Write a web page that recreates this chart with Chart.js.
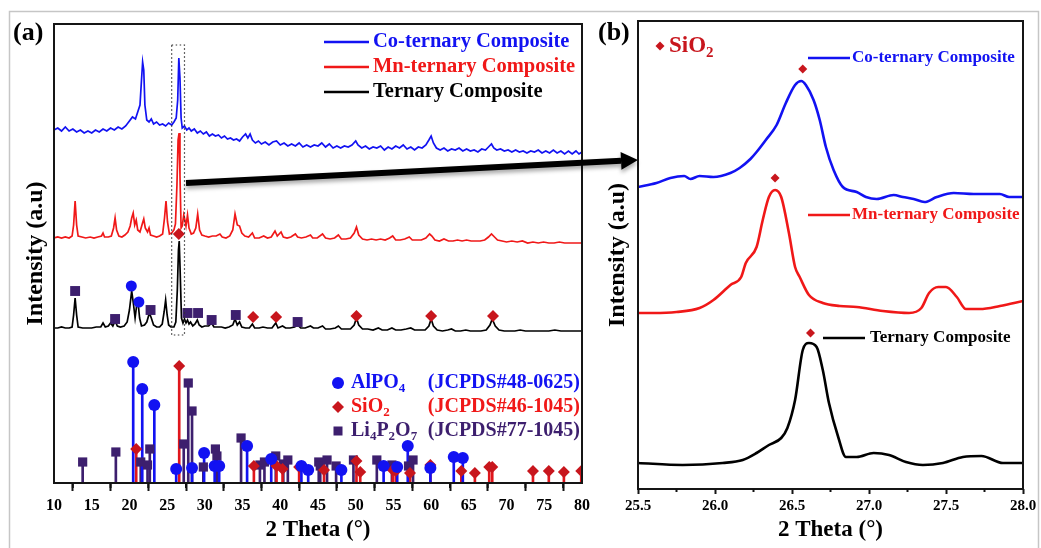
<!DOCTYPE html>
<html>
<head>
<meta charset="utf-8">
<script src="https://cdn.jsdelivr.net/npm/chart.js@4.4.1/dist/chart.umd.min.js"></script>
<style>
  html, body { margin: 0; padding: 0; background: #fff; }
  #wrap { position: relative; width: 1041px; height: 548px; overflow: hidden; }
  #ca { position: absolute; left: 0; top: 0; }
  #cb { position: absolute; left: 590px; top: 0; }
</style>
</head>
<body>
<div id="wrap">
  <canvas id="ca" width="1041" height="548"></canvas>
  <canvas id="cb" width="451" height="548"></canvas>
</div>
<script>
// ---- panel (a): measured patterns, [2theta, intensity a.u.] ----
const coTrace = [[10,353],[10.5,355],[11,352],[11.5,356],[12,352],[12.5,354],[13,351],[13.5,353],[14,350],[14.5,352],[15,350],[15.5,353],[16,351],[16.5,354],[17,352],[17.5,355],[18,353],[18.5,356],[19,354],[19.5,357],[20,362],[20.4,366],[20.8,364],[21.1,371],[21.4,378],[21.6,403],[21.75,421],[21.9,413],[22.05,378],[22.3,363],[22.6,361],[22.9,364],[23.2,359],[23.6,361],[24,358],[24.4,359],[24.8,357],[25.2,360],[25.6,358],[25.9,361],[26.2,365],[26.4,383],[26.55,425],[26.7,405],[26.85,365],[27,355],[27.3,357],[27.6,353],[27.9,355],[28.2,352],[28.6,354],[29,350],[29.4,352],[29.8,349],[30.2,351],[30.6,347],[31,349],[31.4,347],[31.8,348],[32.2,345],[32.6,347],[33,344],[33.4,345],[33.8,343],[34.2,344],[34.6,342],[35,346],[35.4,349],[35.7,345],[36,349],[36.3,343],[36.7,340],[37.1,342],[37.5,339],[38,341],[38.5,338],[39,341],[39.5,342],[40,338],[40.5,340],[41,337],[41.5,339],[42,337],[42.5,340],[43,336],[43.5,338],[44,336],[44.5,338],[45,337],[45.5,340],[46,336],[46.5,339],[47,335],[47.5,337],[48,335],[48.5,337],[49,336],[49.5,338],[50,342],[50.3,338],[50.8,335],[51.3,337],[51.8,334],[52.3,336],[52.8,335],[53.3,337],[53.8,333],[54.3,336],[54.8,334],[55.3,337],[55.8,335],[56.3,338],[56.8,334],[57.3,336],[57.8,333],[58.3,336],[58.8,335],[59.3,338],[59.7,343],[60,347],[60.3,340],[60.7,335],[61.2,333],[61.7,335],[62.2,332],[62.7,334],[63.2,333],[63.7,335],[64.2,332],[64.7,334],[65.2,332],[65.7,333],[66.2,331],[66.7,334],[67.2,333],[67.6,336],[68,339],[68.3,335],[68.7,333],[69.2,334],[69.7,332],[70.2,333],[70.7,331],[71.2,333],[71.7,331],[72.2,332],[72.7,330],[73.2,332],[73.7,331],[74.2,333],[74.7,330],[75.2,332],[75.7,330],[76.2,333],[76.7,330],[77.2,332],[77.7,329],[78.2,332],[78.7,329],[79.2,332],[79.6,329],[80,331]];

const mnTrace = [[10,245],[10.5,246],[11,245],[11.5,246],[12,245],[12.4,247],[12.6,258],[12.8,282],[13,258],[13.2,247],[13.7,246],[14.2,245],[14.8,246],[15.3,245],[15.8,246],[16.3,247],[16.5,250],[16.7,246],[17.2,246],[17.6,247],[17.9,255],[18.1,265],[18.3,253],[18.6,247],[19,246],[19.4,248],[19.8,251],[20.1,257],[20.3,265],[20.5,270],[20.7,258],[20.9,263],[21.1,253],[21.4,251],[21.7,259],[21.9,264],[22.1,255],[22.4,251],[22.6,255],[22.8,248],[23.2,247],[23.6,246],[24,247],[24.4,249],[24.65,265],[24.85,282],[25.05,261],[25.3,249],[25.6,250],[25.9,253],[26.1,259],[26.3,298],[26.45,343],[26.58,350],[26.7,308],[26.85,255],[27,257],[27.2,268],[27.35,263],[27.5,257],[27.7,268],[27.9,255],[28.2,249],[28.5,250],[28.8,255],[29.05,269],[29.3,253],[29.6,248],[30,247],[30.5,246],[31,247],[31.5,247],[32,249],[32.3,246],[32.8,245],[33.3,247],[33.7,253],[34,269],[34.3,258],[34.6,257],[34.9,250],[35.3,247],[35.8,246],[36.3,250],[36.6,245],[37.2,245],[37.8,247],[38.3,245],[38.8,246],[39.3,252],[39.6,247],[40.1,251],[40.4,246],[40.9,245],[41.4,246],[42,249],[42.3,246],[42.8,245],[43.4,246],[44,248],[44.3,245],[44.9,245],[45.6,249],[46,245],[46.6,244],[47.2,245],[47.7,248],[48.1,244],[48.7,244],[49.3,245],[49.8,250],[50.1,256],[50.4,248],[50.9,244],[51.5,243],[52.1,244],[52.7,243],[53.3,244],[53.9,243],[54.5,245],[54.9,247],[55.3,243],[55.9,243],[56.5,244],[57.1,246],[57.5,243],[58.1,243],[58.7,243],[59.3,245],[59.8,249],[60.1,247],[60.5,243],[61.1,242],[61.7,244],[62.3,242],[62.9,242],[63.5,243],[64.1,242],[64.7,243],[65.3,242],[65.9,242],[66.5,242],[67.1,243],[67.6,246],[68,249],[68.4,246],[68.8,243],[69.4,242],[70,241],[70.7,242],[71.4,241],[72.1,242],[72.8,240],[73.5,241],[74.2,240],[74.9,241],[75.6,240],[76.3,240],[77,241],[77.7,240],[78.4,240],[79.1,240],[80,240]];

const terTrace = [[10,155],[10.5,155],[11,156],[11.5,155],[12,155],[12.4,156],[12.6,168],[12.8,185],[13,168],[13.2,156],[13.8,155],[14.4,155],[15,155],[15.6,156],[16.2,156],[16.5,160],[16.8,156],[17.2,157],[17.5,160],[17.8,157],[18.1,162],[18.4,157],[18.8,156],[19.3,157],[19.7,161],[20,173],[20.3,192],[20.55,178],[20.75,165],[20.95,177],[21.15,180],[21.35,165],[21.6,157],[22,158],[22.3,161],[22.65,170],[22.9,165],[23.2,158],[23.6,156],[24,156],[24.35,159],[24.6,171],[24.8,183],[25,168],[25.2,158],[25.5,156],[25.9,156],[26.15,161],[26.35,193],[26.5,233],[26.6,242],[26.72,213],[26.9,165],[27.1,160],[27.3,164],[27.5,160],[27.7,163],[27.9,159],[28.1,161],[28.4,157],[28.7,159],[29,163],[29.25,158],[29.6,156],[30,157],[30.5,157],[30.9,160],[31.2,156],[31.7,156],[32.2,156],[32.7,155],[33.2,156],[33.7,158],[34,164],[34.3,158],[34.6,161],[34.9,156],[35.4,155],[35.9,155],[36.3,159],[36.6,155],[37.2,155],[37.7,156],[38.3,155],[38.9,155],[39.4,160],[39.7,155],[40.3,157],[40.7,155],[41.3,155],[41.9,156],[42.3,158],[42.7,155],[43.3,155],[44,157],[44.4,155],[45,155],[45.6,157],[46,154],[46.6,154],[47.3,155],[47.7,157],[48.1,154],[48.7,154],[49.3,154],[49.8,158],[50.1,165],[50.4,158],[50.9,154],[51.6,154],[52.3,153],[53,155],[53.5,153],[54.2,153],[54.8,155],[55.3,153],[56,153],[56.7,154],[57.3,155],[57.8,153],[58.5,153],[59.2,153],[59.7,157],[60,164],[60.3,157],[60.8,153],[61.5,152],[62.2,153],[62.7,154],[63.2,152],[63.9,152],[64.6,153],[65.2,152],[65.9,152],[66.6,152],[67.3,153],[67.8,158],[68.1,164],[68.5,157],[69,153],[69.7,152],[70.4,152],[71.1,152],[71.8,153],[72.5,152],[73.2,152],[74,152],[74.8,152],[75.6,152],[76.4,153],[77.2,152],[78,152],[78.8,152],[79.5,152],[80,152]];

// phase markers placed over the ternary pattern
const terAlMarks = [[20.25,197],[21.25,181]];
const terSiMarks = [[26.55,249],[36.4,166],[39.45,166],[50.1,167],[60,167],[68.2,167]];
const terLiMarks = [[12.8,192],[18.1,164],[22.8,173],[27.7,170],[29.1,170],[30.9,163],[34.1,168],[42.3,161]];

// reference stick patterns
const alPO4 = [[20.5,121],[21.7,94],[23.3,78],[26.2,14],[28.3,15],[29.9,30],[31.3,17],[31.9,17],[35.6,37],[38.8,24],[42.8,17],[43.7,13],[48.1,13],[53.7,17],[55.5,16],[56.9,37],[59.9,15],[63,26],[64.2,25]];
const siO2 = [[20.9,34],[26.6,117],[36.5,17],[39.5,17],[40.3,14],[42.5,16],[45.8,13],[50.1,22],[50.6,11],[54.9,13],[55.3,12],[57.2,10],[59.9,18],[64,12],[65.8,10],[67.7,16],[68.1,16],[73.5,12],[75.6,12],[77.6,11],[79.9,12]];
const li4P2O7 = [[13.8,21],[18.2,31],[21.5,21],[22.4,18],[22.7,34],[27.2,39],[27.8,100],[28.3,72],[29.8,16],[31.4,34],[31.6,27],[34.8,45],[37.3,18],[37.9,21],[39.4,27],[40.4,19],[41,23],[45.1,21],[45.3,17],[46.2,23],[47.4,17],[49.7,23],[52.8,23],[54.8,18],[57,17],[57.6,23]];

// ---- panel (b): zoom 25.5-28 ----
const coZoom = [[25.5,302],[25.62,306],[25.71,311],[25.8,313],[25.84,310],[25.9,313],[25.99,312],[26.1,316],[26.16,321],[26.23,330],[26.27,337],[26.33,349],[26.4,364],[26.46,386],[26.52,404],[26.56,408],[26.59,404],[26.64,389],[26.68,369],[26.72,342],[26.77,319],[26.83,302],[26.92,297],[26.98,292],[27.05,290],[27.16,294],[27.22,292],[27.29,290],[27.36,287],[27.44,292],[27.55,296],[27.68,295],[27.85,295],[27.91,292],[28,292]];
const mnZoom = [[25.5,176],[25.6,176],[25.75,177],[25.9,181],[25.99,189],[26.1,204],[26.17,212],[26.2,226],[26.27,242],[26.31,269],[26.35,292],[26.39,299],[26.43,292],[26.48,256],[26.52,222],[26.55,212],[26.61,194],[26.7,186],[26.81,183],[26.92,182],[27.09,178],[27.26,176],[27.34,181],[27.39,196],[27.45,202],[27.5,202],[27.57,192],[27.63,180],[27.72,180],[27.85,183],[28,188]];
const terZoom = [[25.5,26],[25.79,24],[26.05,26],[26.18,29],[26.27,36],[26.35,44],[26.43,51],[26.47,61],[26.52,89],[26.57,139],[26.61,146],[26.66,142],[26.7,119],[26.74,86],[26.8,52],[26.85,32],[26.92,32],[27.03,36],[27.13,34],[27.24,27],[27.35,24],[27.48,26],[27.61,32],[27.73,33],[27.87,26],[28,26]];
const zoomSiMarks = [[26.57,420],[26.39,311],[26.62,156]];

const xTicksA = [10, 80, 5];
const xTicksB = [25.5, 28.0, 0.5];

const FONT = "'Liberation Serif', 'Times New Roman', serif";
const BLUE = '#1212f2', RED = '#f01818', BLACK = '#000000';
const DIAMOND = '#c8161d', PURPLE = '#3d1f6e';

const pts = arr => arr.map(([x, y]) => ({ x, y }));

function lineSet(arr, color, width, smooth) {
  return { type: 'line', data: pts(arr), borderColor: color, borderWidth: width,
    pointRadius: 0, fill: false, tension: smooth ? 0.4 : 0,
    cubicInterpolationMode: smooth ? 'monotone' : 'default' };
}
function markSet(arr, color, style, r, clip) {
  const d = { type: 'scatter', data: pts(arr), pointStyle: style, pointRadius: r,
    backgroundColor: color, borderColor: color, borderWidth: 0, showLine: false };
  if (clip !== undefined) d.clip = clip;
  return d;
}
function stickSet(arr, color) {
  return { type: 'bar', data: pts(arr), backgroundColor: color, borderWidth: 0,
    barThickness: 2, grouped: false };
}

// text with subscripts: parts = [[text, isSub], ...]
function subText(ctx, parts, x, y, size, color) {
  ctx.fillStyle = color;
  ctx.textBaseline = 'middle';
  ctx.textAlign = 'left';
  for (const [t, sub] of parts) {
    ctx.font = 'bold ' + (sub ? Math.round(size * 0.65) : size) + 'px ' + FONT;
    ctx.fillText(t, x, sub ? y + size * 0.3 : y);
    x += ctx.measureText(t).width;
  }
  return x;
}

function diamond(ctx, x, y, r, color) {
  ctx.fillStyle = color;
  ctx.beginPath();
  ctx.moveTo(x, y - r); ctx.lineTo(x + r, y); ctx.lineTo(x, y + r); ctx.lineTo(x - r, y);
  ctx.closePath(); ctx.fill();
}

function minorTicks(ctx, scale, from, to, step, len, bottom) {
  ctx.strokeStyle = '#111'; ctx.lineWidth = 2;
  for (let v = from; v <= to + 1e-9; v += step) {
    const px = scale.getPixelForValue(v);
    ctx.beginPath(); ctx.moveTo(px, bottom); ctx.lineTo(px, bottom + len); ctx.stroke();
  }
}

const panelA = {
  id: 'panelA',
  afterDraw(chart) {
    const { ctx, chartArea: a, scales: { x, y } } = chart;
    ctx.save();
    // page border
    ctx.strokeStyle = '#c6c6c6'; ctx.lineWidth = 1.5;
    ctx.strokeRect(9.5, 11.5, 1029, 560);
    // frame
    ctx.strokeStyle = '#151515'; ctx.lineWidth = 2;
    ctx.strokeRect(a.left, a.top, a.right - a.left, a.bottom - a.top);
    minorTicks(ctx, x, 12.5, 77.5, 5, 5, a.bottom);

    // dotted box around the SiO2 main peak
    ctx.setLineDash([1.5, 2.5]); ctx.lineWidth = 1.2; ctx.strokeStyle = '#333';
    const bx0 = x.getPixelForValue(25.6), bx1 = x.getPixelForValue(27.3);
    const by0 = y.getPixelForValue(438), by1 = y.getPixelForValue(148);
    ctx.strokeRect(bx0, by0, bx1 - bx0, by1 - by0);
    ctx.setLineDash([]);

    // arrow to panel (b)
    const sx = x.getPixelForValue(27.5), sy = y.getPixelForValue(300);
    const tx = a.right + 56, ty = y.getPixelForValue(323);
    const ang = Math.atan2(ty - sy, tx - sx), hl = 17, hw = 9;
    const bxp = tx - hl * Math.cos(ang), byp = ty - hl * Math.sin(ang);
    ctx.shadowColor = 'rgba(0,0,0,0.35)'; ctx.shadowBlur = 4; ctx.shadowOffsetY = 3;
    ctx.strokeStyle = '#000'; ctx.lineWidth = 6; ctx.lineCap = 'butt';
    ctx.beginPath(); ctx.moveTo(sx, sy); ctx.lineTo(bxp, byp); ctx.stroke();
    ctx.fillStyle = '#000';
    ctx.beginPath();
    ctx.moveTo(tx, ty);
    ctx.lineTo(bxp + hw * Math.sin(ang), byp - hw * Math.cos(ang));
    ctx.lineTo(bxp - hw * Math.sin(ang), byp + hw * Math.cos(ang));
    ctx.closePath(); ctx.fill();
    ctx.shadowColor = 'transparent'; ctx.shadowBlur = 0; ctx.shadowOffsetY = 0;

    // panel label
    ctx.fillStyle = '#000'; ctx.font = 'bold 26px ' + FONT;
    ctx.textBaseline = 'middle'; ctx.textAlign = 'left';
    ctx.fillText('(a)', 13, 33);

    // legend, top right
    const rows = [['Co-ternary Composite', BLUE], ['Mn-ternary Composite', RED], ['Ternary Composite', BLACK]];
    rows.forEach(([t, c], i) => {
      const ly = a.top + 18 + i * 25;
      ctx.strokeStyle = c; ctx.lineWidth = 2.5;
      ctx.beginPath(); ctx.moveTo(324, ly); ctx.lineTo(369, ly); ctx.stroke();
      ctx.fillStyle = c; ctx.font = 'bold 20.5px ' + FONT; ctx.textAlign = 'left';
      ctx.fillText(t, 373, ly);
    });

    // reference legend
    const mx = 338, r0 = 383, gap = 24, right = a.right - 2;
    ctx.fillStyle = BLUE; ctx.beginPath(); ctx.arc(mx, r0, 6, 0, Math.PI * 2); ctx.fill();
    subText(ctx, [['AlPO', false], ['4', true]], 351, r0, 20, BLUE);
    diamond(ctx, mx, r0 + gap, 6, DIAMOND);
    subText(ctx, [['SiO', false], ['2', true]], 351, r0 + gap, 20, RED);
    ctx.fillStyle = PURPLE; ctx.fillRect(mx - 4.5, r0 + 2 * gap - 4.5, 9, 9);
    subText(ctx, [['Li', false], ['4', true], ['P', false], ['2', true], ['O', false], ['7', true]], 351, r0 + 2 * gap, 20, PURPLE);
    ctx.font = 'bold 20px ' + FONT; ctx.textAlign = 'right';
    ctx.fillStyle = BLUE; ctx.fillText('(JCPDS#48-0625)', right, r0);
    ctx.fillStyle = RED; ctx.fillText('(JCPDS#46-1045)', right, r0 + gap);
    ctx.fillStyle = PURPLE; ctx.fillText('(JCPDS#77-1045)', right, r0 + 2 * gap);
    ctx.restore();
  }
};

const panelB = {
  id: 'panelB',
  afterDraw(chart) {
    const { ctx, chartArea: a, scales: { x, y } } = chart;
    ctx.save();
    ctx.strokeStyle = '#151515'; ctx.lineWidth = 2;
    ctx.strokeRect(a.left, a.top, a.right - a.left, a.bottom - a.top);
    minorTicks(ctx, x, 25.75, 27.75, 0.5, 3, a.bottom);

    ctx.fillStyle = '#000'; ctx.font = 'bold 26px ' + FONT;
    ctx.textBaseline = 'middle'; ctx.textAlign = 'left';
    ctx.fillText('(b)', 8, 33);

    diamond(ctx, a.left + 22, a.top + 25, 4.5, DIAMOND);
    subText(ctx, [['SiO', false], ['2', true]], a.left + 31, a.top + 25, 23, DIAMOND);

    const labels = [['Co-ternary Composite', BLUE, 58, 0], ['Mn-ternary Composite', RED, 215, 0], ['Ternary Composite', BLACK, 338, 15]];
    for (const [t, c, ly, dx] of labels) {
      ctx.strokeStyle = c; ctx.lineWidth = 2.5;
      ctx.beginPath(); ctx.moveTo(a.left + 170 + dx, ly); ctx.lineTo(a.left + 212 + dx, ly); ctx.stroke();
      ctx.fillStyle = c; ctx.font = 'bold 17px ' + FONT;
      ctx.fillText(t, a.left + 214 + dx + (dx ? 3 : 0), ly);
    }
    ctx.restore();
  }
};

function axisOpts(range, fontSize, tickLen, pad, fitH, fmt) {
  return {
    type: 'linear', min: range[0], max: range[1], offset: false,
    ticks: { stepSize: range[2], color: '#000', padding: pad, maxRotation: 0, autoSkip: false,
      font: { family: FONT, size: fontSize, weight: 'bold' }, callback: fmt },
    grid: { display: true, drawOnChartArea: false, drawTicks: true, tickLength: tickLen, tickWidth: 2, tickColor: '#151515' },
    border: { display: false },
    title: { display: true, text: '2 Theta (°)', color: '#000',
      font: { family: FONT, size: 23, weight: 'bold' }, padding: { top: 0, bottom: 4 } },
    afterFit(s) { s.height = fitH; }
  };
}
function yOpts(max, titlePad, fitW) {
  return {
    min: 0, max: max, ticks: { display: false }, grid: { display: false }, border: { display: false },
    title: { display: true, text: 'Intensity (a.u)', color: '#000',
      font: { family: FONT, size: 24, weight: 'bold' }, padding: { top: titlePad, bottom: 0 } },
    afterFit(s) { s.width = fitW; }
  };
}

new Chart(document.getElementById('ca'), {
  type: 'line',
  data: {
    datasets: [
      markSet(terAlMarks, BLUE, 'circle', 5.5),
      markSet(terSiMarks, DIAMOND, 'rectRot', 6),
      markSet(terLiMarks, PURPLE, 'rect', 7),
      markSet(alPO4, BLUE, 'circle', 6, 0),
      markSet(siO2, DIAMOND, 'rectRot', 6, 0),
      markSet(li4P2O7, PURPLE, 'rect', 6.5, 0),
      lineSet(coTrace, BLUE, 1.7),
      lineSet(mnTrace, RED, 1.7),
      lineSet(terTrace, BLACK, 1.7),
      stickSet(alPO4, BLUE),
      stickSet(siO2, '#e0161c'),
      stickSet(li4P2O7, PURPLE)
    ]
  },
  options: {
    responsive: false, animation: false, events: [],
    layout: { padding: { left: 0, top: 24, right: 459, bottom: 0 } },
    plugins: { legend: { display: false }, tooltip: { enabled: false } },
    scales: {
      x: axisOpts(xTicksA, 16, 8, 5, 65, v => String(v)),
      y: yOpts(459, 21, 54)
    }
  },
  plugins: [panelA]
});

new Chart(document.getElementById('cb'), {
  type: 'line',
  data: {
    datasets: [
      markSet(zoomSiMarks, DIAMOND, 'rectRot', 4.5),
      lineSet(coZoom, BLUE, 2.6, true),
      lineSet(mnZoom, RED, 2.6, true),
      lineSet(terZoom, BLACK, 2.6, true)
    ]
  },
  options: {
    responsive: false, animation: false, events: [],
    layout: { padding: { left: 0, top: 21, right: 18, bottom: 0 } },
    plugins: { legend: { display: false }, tooltip: { enabled: false } },
    scales: {
      x: axisOpts(xTicksB, 15, 5, 3, 59, v => Number(v).toFixed(1)),
      y: yOpts(468, 13, 48)
    }
  },
  plugins: [panelB]
});
</script>
</body>
</html>
